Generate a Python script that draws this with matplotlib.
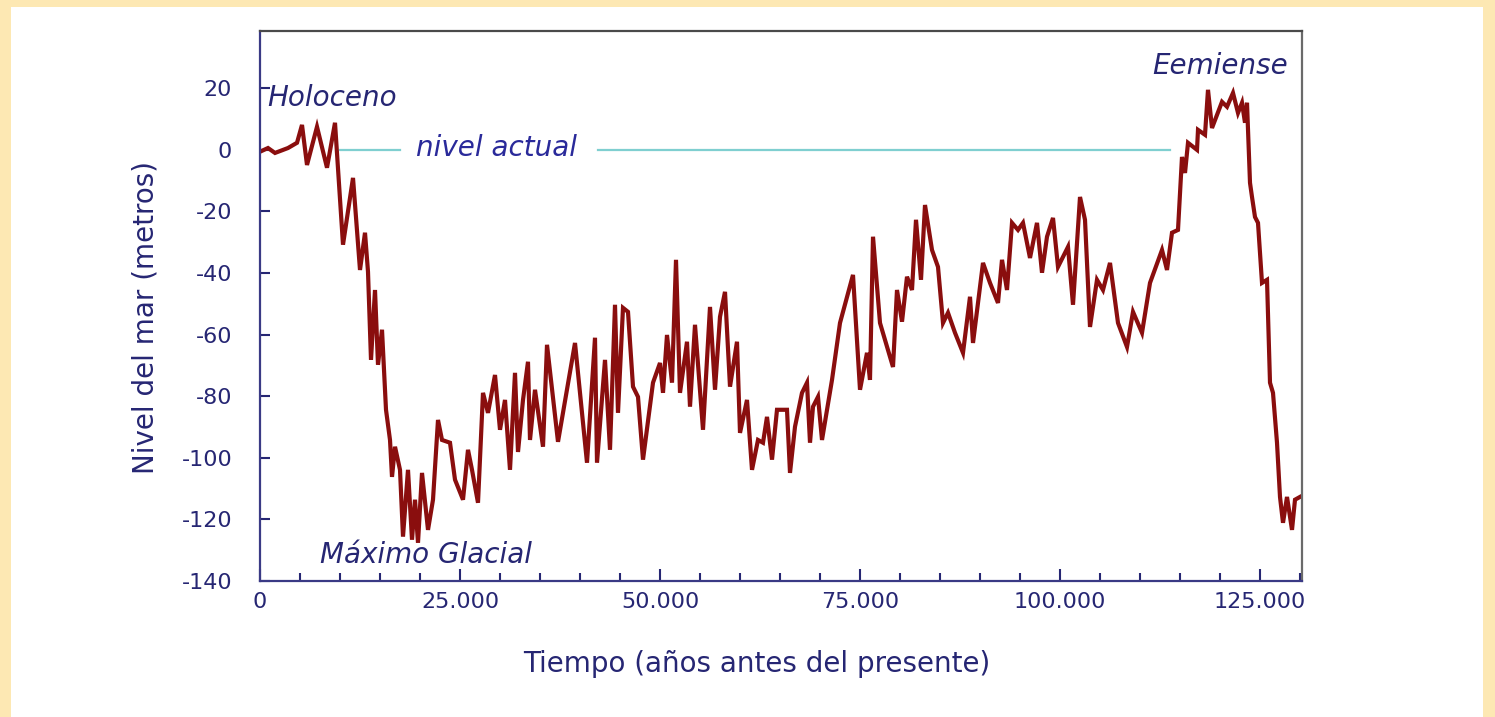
import numpy as np
import matplotlib
matplotlib.use("Agg")
import matplotlib.pyplot as plt
from matplotlib.patches import Rectangle
from matplotlib.ticker import MultipleLocator, FuncFormatter

# years before present
years = [0, 1000, 1875, 3500, 4625, 5250, 5875, 7125, 8375, 9375,
         10375, 11625, 12500, 13125, 13500, 13875, 14375, 14750, 15250, 15750,
         16250, 16500, 16875, 17500, 17875, 18500, 19000, 19375, 19750, 20250,
         21000, 21625, 22250, 22750, 23750, 24375, 25375, 26000, 26500, 27250,
         27875, 28500, 29375, 30000, 30625, 31250, 31875, 32250, 32875, 33500,
         33750, 34375, 35375, 35875, 37250, 39375, 40875, 41875, 42125, 43125,
         43750, 44375, 44750, 45375, 46000, 46625, 47250, 47875, 49125, 50000,
         50375, 50875, 51500, 52000, 52500, 53375, 53750, 54375, 55375, 56250,
         56875, 57500, 58125, 58750, 59625, 60000, 60875, 61500, 62250, 62875,
         63375, 64000, 64625, 65875, 66250, 66875, 67750, 68375, 68750, 69125,
         69750, 70250, 71500, 72500, 74125, 75000, 75875, 76250, 76625, 77500,
         79125, 79625, 80250, 80875, 81500, 82000, 82625, 83125, 84000, 84750,
         85375, 86000, 86875, 87875, 88750, 89125, 90375, 91250, 92250, 92750,
         93375, 94000, 94750, 95375, 96250, 97125, 97750, 98375, 99125, 99750,
         101000, 101625, 102500, 103125, 103750, 104625, 105375, 106250, 107250, 108375,
         109125, 110250, 111250, 112750, 113375, 114000, 114750, 115250, 115625, 116000,
         117125, 117250, 118125, 118500, 119000, 120250, 120875, 121625, 122250, 122750,
         123125, 123375, 123750, 124000, 124375, 124750, 125250, 125875, 126250, 126625,
         127125, 127500, 127875, 128375, 129000, 129375, 130000]

# sea level (m)
nivel = [-0.6, 0.6, -1.0, 0.6, 2.3, 8.1, -4.9, 7.5, -5.8, 8.8,
         -30.8, -9.1, -39.0, -26.9, -39.6, -68.2, -45.5, -69.8, -58.4, -84.4,
         -94.2, -106.2, -96.4, -103.9, -125.6, -103.9, -126.6, -113.6, -127.6, -104.9,
         -123.4, -113.6, -87.7, -94.2, -95.1, -107.1, -113.6, -97.4, -103.9, -114.6,
         -78.9, -85.4, -73.1, -90.9, -81.2, -103.9, -72.4, -98.1, -81.2, -68.8,
         -94.2, -77.9, -96.4, -63.3, -94.8, -62.7, -101.6, -61.0, -101.6, -68.2,
         -97.4, -50.3, -85.4, -51.3, -52.6, -76.9, -80.2, -100.6, -75.6, -69.2,
         -78.9, -60.1, -75.6, -35.7, -78.9, -62.3, -83.4, -56.8, -90.9, -51.0,
         -77.9, -54.2, -46.1, -76.9, -62.3, -91.9, -81.2, -103.9, -94.2, -95.1,
         -86.7, -100.6, -84.4, -84.4, -104.9, -89.9, -78.9, -75.6, -95.1, -83.4,
         -80.2, -94.2, -74.7, -56.2, -40.6, -77.9, -65.9, -74.7, -28.2, -56.2,
         -70.5, -45.5, -55.8, -41.2, -45.5, -22.7, -42.2, -17.9, -32.5, -38.0,
         -56.2, -52.9, -59.4, -65.9, -47.7, -62.7, -36.7, -43.2, -49.7, -35.7,
         -45.5, -23.7, -26.0, -23.7, -35.1, -23.7, -39.9, -28.2, -22.1, -38.0,
         -31.5, -50.3, -15.3, -22.7, -57.5, -42.2, -45.5, -36.7, -56.2, -64.0,
         -52.6, -59.4, -43.2, -32.5, -39.0, -26.9, -26.0, -2.3, -7.5, 2.3,
         0.0, 6.5, 4.9, 19.5, 7.1, 15.6, 14.0, 18.5, 12.0, 15.3,
         8.8, 15.3, -10.7, -15.3, -21.8, -23.7, -43.2, -42.2, -75.6, -78.9,
         -95.1, -112.7, -121.1, -112.7, -123.4, -113.6, -112.7]

# "nivel actual" reference line pieces (x ranges)
actual_tramos = [(10000, 17500), (42250, 113750)]

navy = '#262673'
plt.rcParams['font.family'] = ['DejaVu Sans']
plt.rcParams['axes.unicode_minus'] = False

fig = plt.figure(figsize=(14.95, 7.17), dpi=100)
fig.patch.set_facecolor('#FDE8B3')
fig.patches.append(Rectangle((11 / 1495, 0), (1483 - 11) / 1495, (717 - 7) / 717,
                             transform=fig.transFigure, facecolor='white',
                             edgecolor='none', zorder=-10))

ax = fig.add_axes([260 / 1495, (717 - 581) / 717, 1042 / 1495, 550 / 717])
ax.set_zorder(5)
ax.set_facecolor('white')

for a, b in actual_tramos:
    ax.plot([a, b], [0, 0], color='#7FCFD0', lw=1.6, zorder=1)
ax.plot(years, nivel, color='#8A0E0E', lw=3.0, zorder=2, solid_joinstyle='miter')

ax.set_xlim(0, 130250)
ax.set_ylim(-140, 38.6)

ax.xaxis.set_major_locator(MultipleLocator(25000))
ax.xaxis.set_minor_locator(MultipleLocator(5000))
ax.yaxis.set_major_locator(MultipleLocator(20))
ax.xaxis.set_major_formatter(FuncFormatter(lambda v, p: '0' if v == 0 else f'{int(v):,}'.replace(',', '.')))

ax.tick_params(axis='x', which='major', direction='in', length=9, width=1.5, color=navy,
               labelsize=16, labelcolor=navy, pad=8)
ax.tick_params(axis='x', which='minor', direction='in', length=6, width=1.5, color=navy)
ax.tick_params(axis='y', direction='in', length=7, width=1.5, color=navy,
               labelsize=16, labelcolor=navy, pad=20)

ax.spines['left'].set_color('#3a3a85')
ax.spines['bottom'].set_color('#3a3a85')
ax.spines['top'].set_color('#4a4a4a')
ax.spines['right'].set_color('#6a6a6a')
for s in ax.spines.values():
    s.set_linewidth(1.6)

ax.set_xlabel('Tiempo (años antes del presente)', fontsize=20, color=navy)
ax.set_ylabel('Nivel del mar (metros)', fontsize=20, color=navy)
ax.xaxis.set_label_coords(0.477, -0.125)
ax.yaxis.set_label_coords(-0.096, 0.48)

ax.text(875, 16.9, 'Holoceno', fontsize=20, style='italic', color=navy, ha='left', va='center')
ax.text(128500, 27.3, 'Eemiense', fontsize=20, style='italic', color=navy, ha='right', va='center')
ax.text(7500, -131.5, 'Máximo Glacial', fontsize=20, style='italic', color=navy, ha='left', va='center')
ax.text(29600, 0.6, 'nivel actual', fontsize=20, style='italic', color='#2a2a9a', ha='center', va='center')

fig.savefig('out.png', dpi=100, facecolor=fig.get_facecolor())
